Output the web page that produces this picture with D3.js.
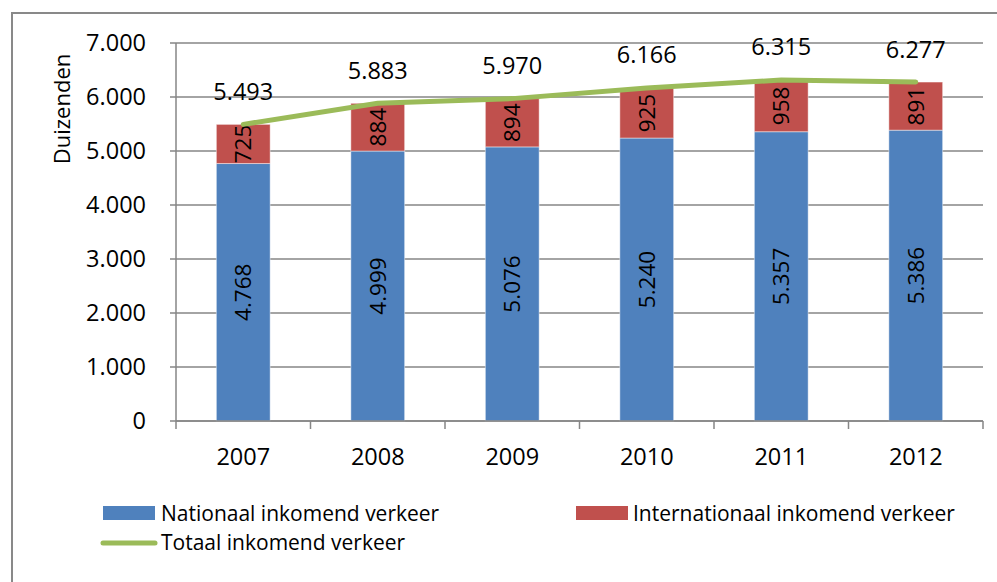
<!DOCTYPE html>
<html>
<head>
<meta charset="utf-8">
<script src="https://cdn.jsdelivr.net/npm/d3@7"></script>
<style>
  html, body { margin: 0; padding: 0; background: #fff; }
  svg { display: block; }
  text { font-family: "Open Sans", sans-serif; fill: #000; }
</style>
</head>
<body>
<script>
// ---- Data ----
const years = ["2007", "2008", "2009", "2010", "2011", "2012"];
const nationaal = [4768, 4999, 5076, 5240, 5357, 5386];
const internationaal = [725, 884, 894, 925, 958, 891];
const totaal = [5493, 5883, 5970, 6166, 6315, 6277];
const yTicks = [0, 1000, 2000, 3000, 4000, 5000, 6000, 7000];
const seriesNames = ["Nationaal inkomend verkeer", "Internationaal inkomend verkeer", "Totaal inkomend verkeer"];
const yTitle = "Duizenden";

const fmt = v => d3.format(",")(v).replace(/,/g, ".");

const W = 997, H = 582;
const colors = { nat: "#4F81BD", int: "#C0504D", tot: "#9BBB59", grid: "#868686" };
const FS = 23.5;

const svg = d3.select("body").append("svg").attr("width", W).attr("height", H);

// outer chart border
svg.append("rect").attr("x", 12).attr("y", 13).attr("width", 1000).attr("height", 600)
  .attr("fill", "#fff").attr("stroke", "#898989").attr("stroke-width", 2);

const plot = { left: 176, right: 983, top: 43, bottom: 421 };
const x = d3.scaleBand().domain(years).range([plot.left, plot.right]).paddingInner(0).paddingOuter(0);
const y = d3.scaleLinear().domain([0, 7000]).range([plot.bottom, plot.top]);
const barW = x.bandwidth() * 0.4;

// gridlines + y ticks
svg.append("g").selectAll("line").data(yTicks).join("line")
  .attr("x1", plot.left - 6).attr("x2", plot.right)
  .attr("y1", d => y(d)).attr("y2", d => y(d))
  .attr("stroke", colors.grid).attr("stroke-width", 1.5);

svg.append("g").selectAll("text").data(yTicks).join("text")
  .attr("x", 146).attr("y", d => y(d)).attr("dy", "0.36em")
  .attr("text-anchor", "end").attr("font-size", FS)
  .text(d => fmt(d));

// y axis line
svg.append("line").attr("x1", plot.left).attr("x2", plot.left)
  .attr("y1", plot.top).attr("y2", plot.bottom).attr("stroke", colors.grid).attr("stroke-width", 1.5);

// y title
svg.append("text").attr("transform", `translate(70,109) rotate(-90)`)
  .attr("text-anchor", "middle").attr("font-size", 22).text(yTitle);

// bars
const data = years.map((yr, i) => ({ yr, nat: nationaal[i], int: internationaal[i], tot: totaal[i] }));
const gb = svg.append("g");
gb.selectAll("rect.nat").data(data).join("rect").attr("class", "nat")
  .attr("x", d => x(d.yr) + (x.bandwidth() - barW) / 2).attr("width", barW)
  .attr("y", d => y(d.nat)).attr("height", d => y(0) - y(d.nat))
  .attr("fill", colors.nat).attr("stroke", "rgba(255,255,255,0.45)").attr("stroke-width", 1);
gb.selectAll("rect.int").data(data).join("rect").attr("class", "int")
  .attr("x", d => x(d.yr) + (x.bandwidth() - barW) / 2).attr("width", barW)
  .attr("y", d => y(d.nat + d.int)).attr("height", d => y(d.nat) - y(d.nat + d.int))
  .attr("fill", colors.int).attr("stroke", "rgba(255,255,255,0.45)").attr("stroke-width", 1);

// x axis
svg.append("line").attr("x1", plot.left).attr("x2", plot.right)
  .attr("y1", plot.bottom).attr("y2", plot.bottom).attr("stroke", colors.grid).attr("stroke-width", 1.5);
const bounds = years.map(d => x(d)).concat([plot.right]);
svg.append("g").selectAll("line").data(bounds).join("line")
  .attr("x1", d => d).attr("x2", d => d).attr("y1", plot.bottom).attr("y2", plot.bottom + 8)
  .attr("stroke", colors.grid).attr("stroke-width", 1.5);
svg.append("g").selectAll("text").data(years).join("text")
  .attr("x", d => x(d) + x.bandwidth() / 2).attr("y", 457).attr("dy", "0.36em")
  .attr("text-anchor", "middle").attr("font-size", FS).text(d => d);

// bar labels (rotated)
const cx = d => x(d.yr) + x.bandwidth() / 2;
svg.append("g").selectAll("text").data(data).join("text")
  .attr("transform", d => `translate(${cx(d)},${(y(0) + y(d.nat)) / 2}) rotate(-90)`)
  .attr("text-anchor", "middle").attr("dy", "0.36em").attr("font-size", 22.5).text(d => fmt(d.nat));
svg.append("g").selectAll("text").data(data).join("text")
  .attr("transform", d => `translate(${cx(d)},${(y(d.nat) + y(d.nat + d.int)) / 2}) rotate(-90)`)
  .attr("text-anchor", "middle").attr("dy", "0.36em").attr("font-size", 22.5).text(d => fmt(d.int));

// total line
const line = d3.line().x(d => cx(d)).y(d => y(d.tot));
svg.append("path").datum(data).attr("d", line).attr("fill", "none")
  .attr("stroke", colors.tot).attr("stroke-width", 5).attr("stroke-linecap", "round").attr("stroke-linejoin", "round");
svg.append("g").selectAll("text").data(data).join("text")
  .attr("x", d => cx(d)).attr("y", d => y(d.tot) - 33).attr("dy", "0.36em")
  .attr("text-anchor", "middle").attr("font-size", FS).text(d => fmt(d.tot));

// legend
const lg = svg.append("g");
lg.append("rect").attr("x", 103).attr("y", 506).attr("width", 52).attr("height", 14).attr("fill", colors.nat);
lg.append("text").attr("x", 161).attr("y", 513).attr("dy", "0.36em").attr("font-size", 21).text(seriesNames[0]);
lg.append("rect").attr("x", 576).attr("y", 506).attr("width", 52).attr("height", 14).attr("fill", colors.int);
lg.append("text").attr("x", 633).attr("y", 513).attr("dy", "0.36em").attr("font-size", 21).text(seriesNames[1]);
lg.append("line").attr("x1", 103).attr("x2", 155).attr("y1", 543).attr("y2", 543)
  .attr("stroke", colors.tot).attr("stroke-width", 5).attr("stroke-linecap", "round");
lg.append("text").attr("x", 161).attr("y", 542).attr("dy", "0.36em").attr("font-size", 21).text(seriesNames[2]);
</script>
</body>
</html>
